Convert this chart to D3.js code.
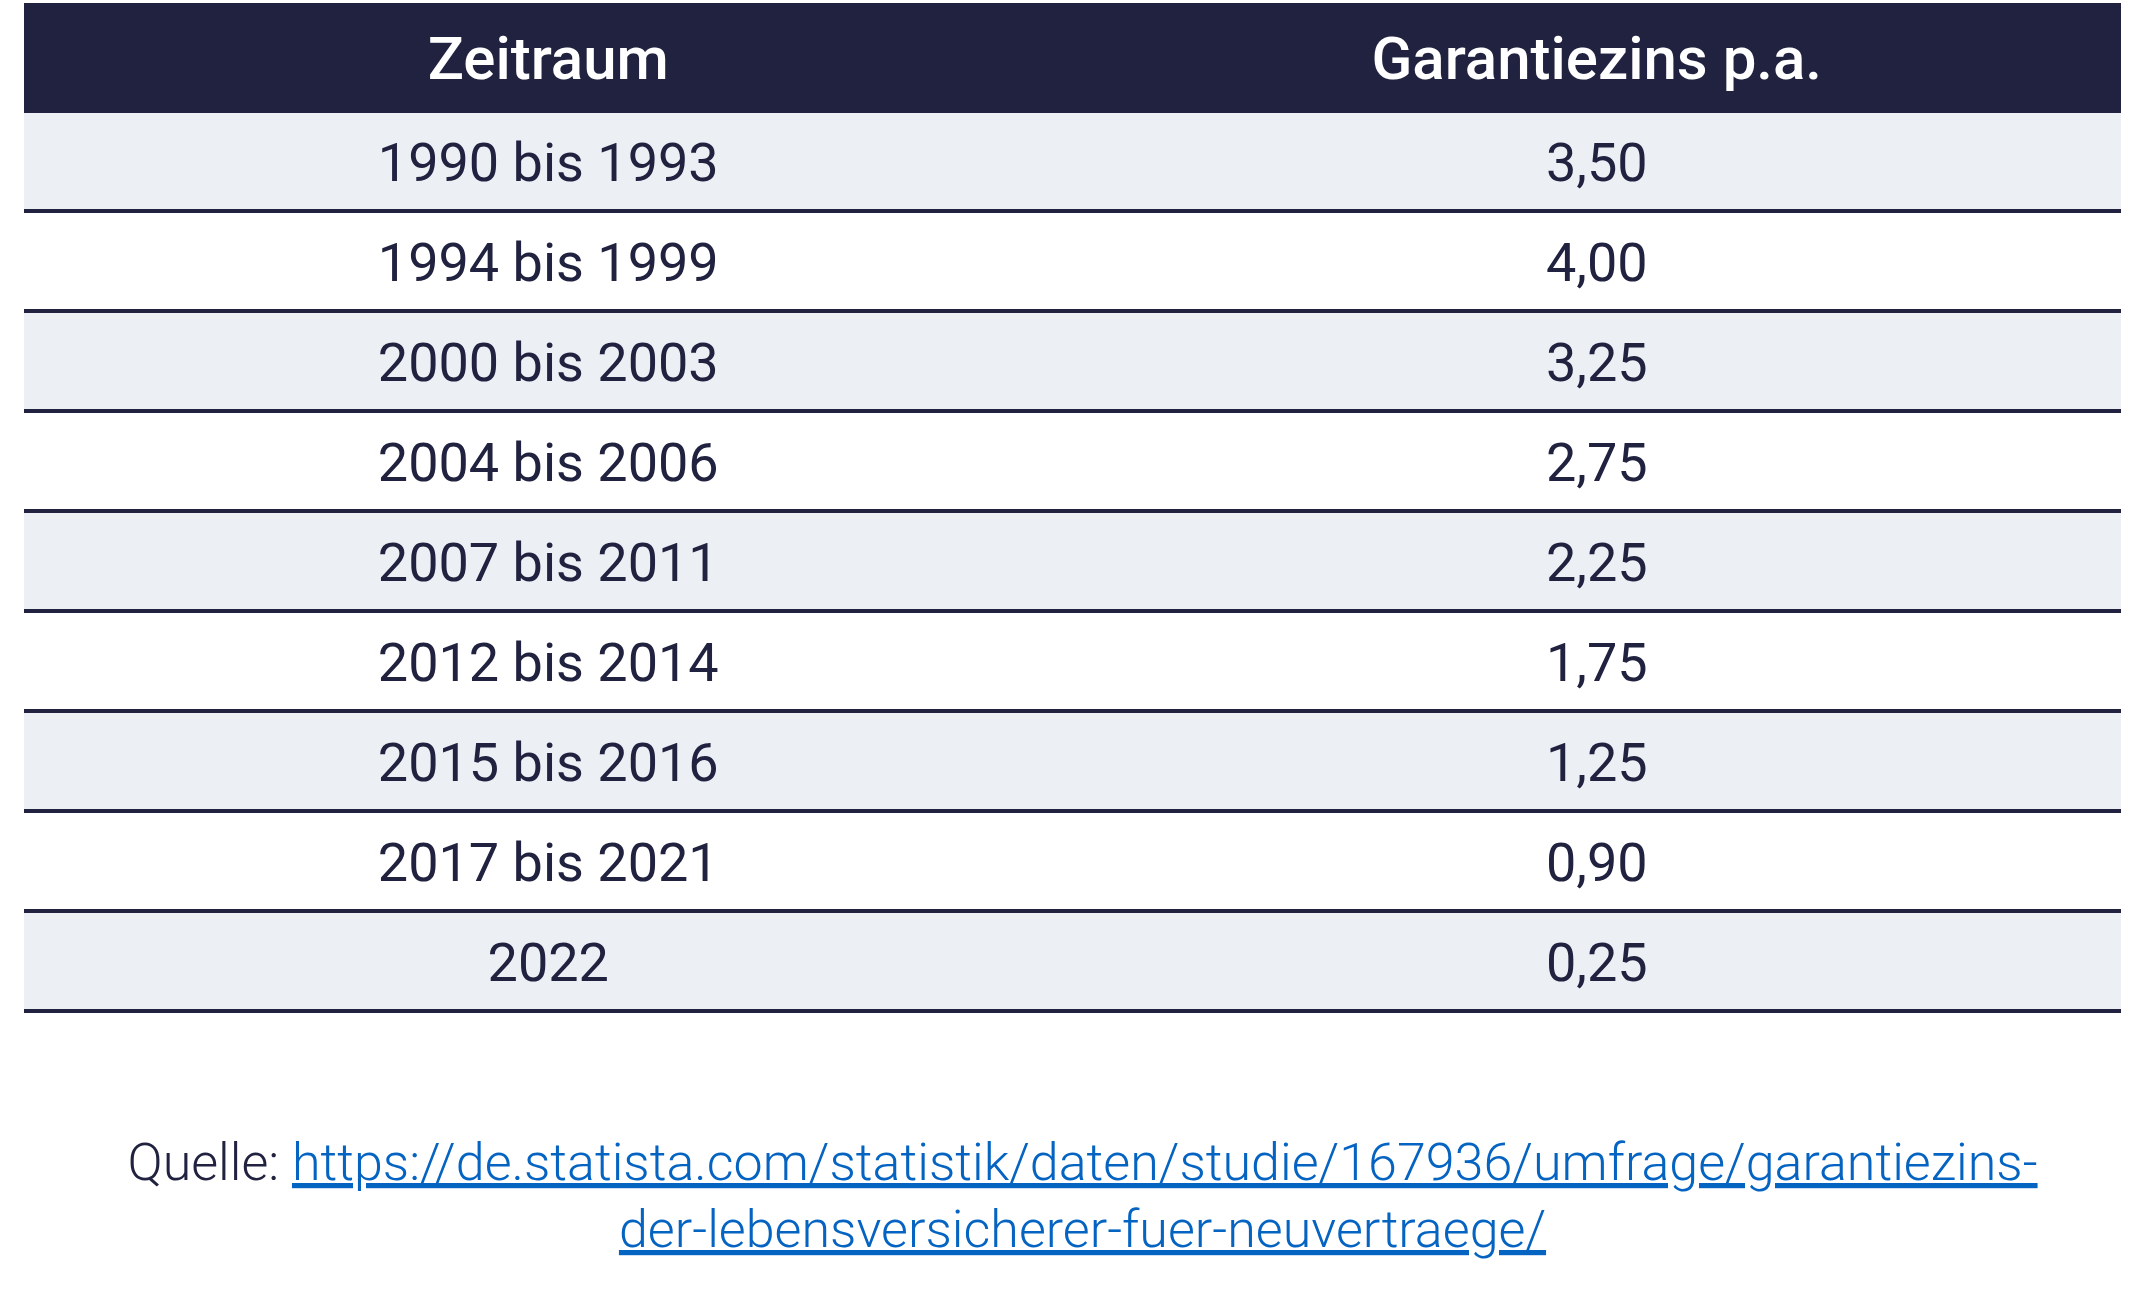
<!DOCTYPE html>
<html><head><meta charset="utf-8">
<script src="https://cdn.jsdelivr.net/npm/d3@7"></script>
<style>body{margin:0;background:#fff}</style>
</head><body>
<svg id="c" width="2145" height="1293"></svg>
<script>
const headers = ['Zeitraum', 'Garantiezins p.a.'];
const periods = ['1990 bis 1993', '1994 bis 1999', '2000 bis 2003', '2004 bis 2006', '2007 bis 2011',
    '2012 bis 2014', '2015 bis 2016', '2017 bis 2021', '2022'];
const rates = [3.50, 4.00, 3.25, 2.75, 2.25, 1.75, 1.25, 0.90, 0.25];
const sourceLines = ['https://de.statista.com/statistik/daten/studie/167936/umfrage/garantiezins-',
    'der-lebensversicherer-fuer-neuvertraege/'];

const dark = '#20223f', stripe = '#eceff4', link = '#0563c1',
    tLeft = 24, tRight = 2121, tTop = 3, headH = 110, rowH = 100;

const svg = d3.select('#c').style('font-family', 'Roboto');
const fmt = v => v.toFixed(2).replace('.', ',');

const x = d3.scaleBand().domain([0, 1]).range([tLeft, tRight]);
const y = d3.scaleBand().domain(d3.range(periods.length)).range([tTop + headH, tTop + headH + rowH * periods.length]);

svg.append('rect').attr('x', tLeft).attr('y', tTop).attr('width', tRight - tLeft).attr('height', headH).attr('fill', dark);
svg.selectAll('.h').data(headers).join('text')
    .attr('x', (d, i) => x(i) + x.bandwidth() / 2).attr('y', tTop + headH / 2 + 21)
    .attr('text-anchor', 'middle').attr('fill', '#fff').attr('font-size', 60).attr('font-weight', 500)
    .text(d => d);

const rows = svg.selectAll('.row').data(periods).join('g')
    .attr('transform', (d, i) => `translate(0,${y(i)})`);
rows.append('rect').attr('x', tLeft).attr('width', tRight - tLeft).attr('height', rowH)
    .attr('fill', (d, i) => i % 2 === 0 ? stripe : '#fff');
rows.append('line').attr('x1', tLeft).attr('x2', tRight).attr('y1', rowH - 2).attr('y2', rowH - 2)
    .attr('stroke', dark).attr('stroke-width', 4);
rows.append('text').attr('x', x(0) + x.bandwidth() / 2).attr('y', rowH / 2 + 18)
    .attr('text-anchor', 'middle').attr('fill', dark).attr('font-size', 54).text(d => d);
rows.append('text').attr('x', x(1) + x.bandwidth() / 2).attr('y', rowH / 2 + 18)
    .attr('text-anchor', 'middle').attr('fill', dark).attr('font-size', 54).text((d, i) => fmt(rates[i]));

// source
const cx = (tLeft + tRight) / 2 + 10;
const t1 = svg.append('text').attr('x', cx).attr('y', 1180).attr('text-anchor', 'middle')
    .attr('font-size', 52).attr('font-weight', 300);
t1.append('tspan').attr('fill', dark).text('Quelle: ');
t1.append('tspan').attr('fill', link).attr('text-decoration', 'underline').text(sourceLines[0]);
svg.append('text').attr('x', cx).attr('y', 1247).attr('text-anchor', 'middle')
    .attr('font-size', 52).attr('font-weight', 300).attr('fill', link).attr('text-decoration', 'underline')
    .text(sourceLines[1]);
</script>
</body></html>
